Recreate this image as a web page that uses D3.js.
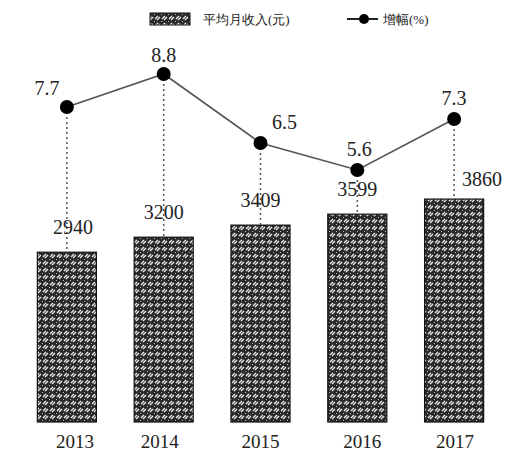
<!DOCTYPE html>
<html>
<head>
<meta charset="utf-8">
<script src="https://cdn.jsdelivr.net/npm/d3@7"></script>
<style>
  body { margin: 0; background: #fff; }
  text { font-family: "Liberation Serif", "DejaVu Serif", serif; fill: #222; }
</style>
</head>
<body>
<div class="stage"></div>
<script>
var years = ["2013", "2014", "2015", "2016", "2017"];
var income = [2940, 3200, 3409, 3599, 3860];
var growth = [7.7, 8.8, 6.5, 5.6, 7.3];
// label nudges for growth values (dx, dy)
var growthOffsets = [[-20, -12], [0, -12], [24, -14], [2, -14], [0, -14]];

var svg = d3.select(".stage").append("svg").attr("width", 506).attr("height", 454);

// hatch fill for the bars
var defs = svg.append("defs");
var pat = defs.append("pattern").attr("id", "hatch")
  .attr("patternUnits", "userSpaceOnUse").attr("width", 7).attr("height", 7);
pat.append("rect").attr("width", 7).attr("height", 7).attr("fill", "#2a2a2a");
pat.append("path").attr("d", "M1,5 L4,2 M3,6 L6,3")
  .attr("stroke", "#e8e8e8").attr("stroke-width", 1.4);
pat.append("rect").attr("x", 0).attr("y", 0).attr("width", 1).attr("height", 1).attr("fill", "#bbb");

var x = d3.scaleBand().domain(years).range([18, 503]).paddingInner(0.39).paddingOuter(0.2);
var yBar = d3.scaleLinear().domain([0, 4000]).range([422, 191]);
var yLine = d3.scaleLinear().domain([0, 10]).range([338, 38]);

// bars
svg.selectAll("rect.bar").data(income).enter()
  .append("rect").attr("class", "bar")
  .attr("x", function(d, i){ return x(years[i]); })
  .attr("y", function(d){ return yBar(d); })
  .attr("width", x.bandwidth())
  .attr("height", function(d){ return yBar(0) - yBar(d); })
  .attr("fill", "url(#hatch)")
  .attr("stroke", "#111").attr("stroke-width", 1.2);

// dotted drop lines from point to bar
svg.selectAll("line.drop").data(growth).enter()
  .append("line").attr("class", "drop")
  .attr("x1", function(d, i){ return x(years[i]) + x.bandwidth() / 2; })
  .attr("x2", function(d, i){ return x(years[i]) + x.bandwidth() / 2; })
  .attr("y1", function(d){ return yLine(d); })
  .attr("y2", function(d, i){ return yBar(income[i]); })
  .attr("stroke", "#555").attr("stroke-width", 1.5)
  .attr("stroke-dasharray", "2,3");

// growth line
var line = d3.line()
  .x(function(d, i){ return x(years[i]) + x.bandwidth() / 2; })
  .y(function(d){ return yLine(d); });
svg.append("path").datum(growth).attr("d", line)
  .attr("fill", "none").attr("stroke", "#555").attr("stroke-width", 1.6);

svg.selectAll("circle.pt").data(growth).enter()
  .append("circle").attr("class", "pt")
  .attr("cx", function(d, i){ return x(years[i]) + x.bandwidth() / 2; })
  .attr("cy", function(d){ return yLine(d); })
  .attr("r", 7).attr("fill", "#000");

svg.selectAll("text.g").data(growth).enter()
  .append("text").attr("class", "g")
  .attr("x", function(d, i){ return x(years[i]) + x.bandwidth() / 2 + growthOffsets[i][0]; })
  .attr("y", function(d, i){ return yLine(d) + growthOffsets[i][1]; })
  .attr("text-anchor", "middle").attr("font-size", 20)
  .text(function(d){ return d.toFixed(1); });

// income labels
var incomeDx = [6, 0, 0, 0, 28];
svg.selectAll("text.inc").data(income).enter()
  .append("text").attr("class", "inc")
  .attr("x", function(d, i){ return x(years[i]) + x.bandwidth() / 2 + incomeDx[i]; })
  .attr("y", function(d, i){ return yBar(d) - (i == 4 ? 13 : 18); })
  .attr("text-anchor", "middle").attr("font-size", 20)
  .text(function(d){ return d; });

// year axis
var yearDx = [8, -4, 0, 5, 1];
var axis = svg.append("g").attr("transform", "translate(0,422)")
  .call(d3.axisBottom(x).tickSize(0).tickPadding(13));
axis.select(".domain").remove();
axis.selectAll("text").attr("font-size", 19)
  .attr("dx", function(d, i){ return yearDx[i]; })
  .attr("font-family", "Liberation Serif, serif").attr("fill", "#222");

// legend
var lg = svg.append("g");
lg.append("rect").attr("x", 150).attr("y", 13).attr("width", 40).attr("height", 12)
  .attr("fill", "url(#hatch)").attr("stroke", "#111");
lg.append("text").attr("x", 203).attr("y", 24).attr("font-size", 13)
  .attr("font-family", "Noto Sans CJK SC").attr("fill", "#555").text("平均月收入(元)");
lg.append("line").attr("x1", 347).attr("x2", 378).attr("y1", 19).attr("y2", 19)
  .attr("stroke", "#222").attr("stroke-width", 2);
lg.append("circle").attr("cx", 364).attr("cy", 19).attr("r", 5).attr("fill", "#000");
lg.append("text").attr("x", 383).attr("y", 24).attr("font-size", 13)
  .attr("font-family", "Noto Sans CJK SC").attr("fill", "#555").text("增幅(%)");
</script>
</body>
</html>
